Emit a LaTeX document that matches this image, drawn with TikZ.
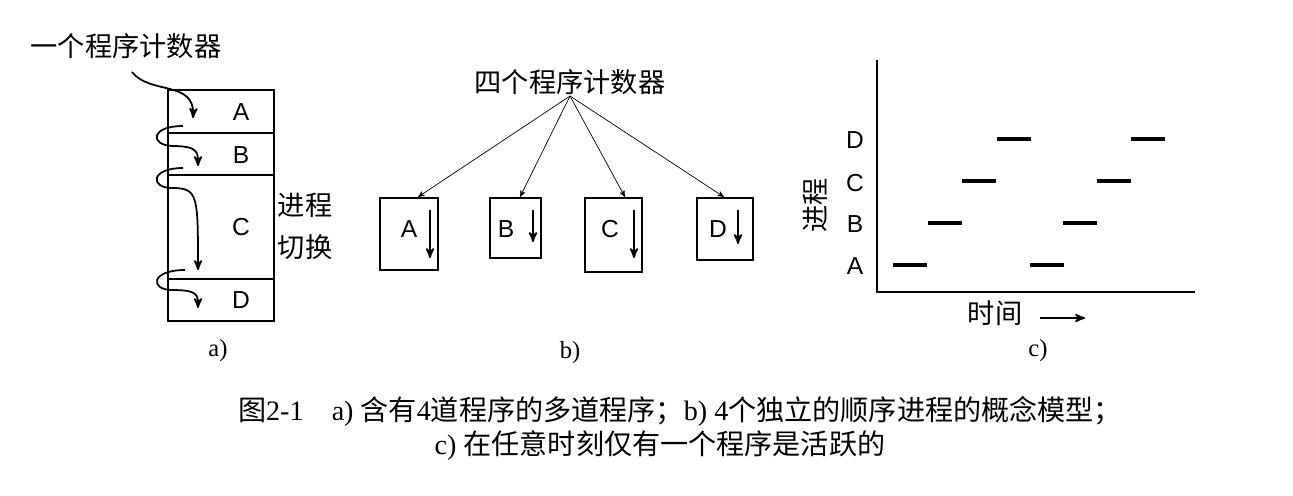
\documentclass[tikz,border=0pt]{standalone}
\usepackage{fontspec}
\setmainfont{Liberation Sans}
\newfontfamily\cjk{Noto Sans CJK SC}
\newfontfamily\capfont{Liberation Serif}
\usetikzlibrary{arrows, calc, positioning}
\tikzset{
>=stealth', % bold arrow heads
every node/.style={inner sep=1pt},
busy/.style={line width=2.3pt},
lbl/.style={font=\fontsize{14}{16}\selectfont},
cjkl/.style={font=\cjk\fontsize{15.5}{18}\selectfont},
capl/.style={font=\capfont\fontsize{14}{16}\selectfont},
capt/.style={font=\capfont\fontsize{16}{18}\selectfont},
}
\begin{document}
\begin{tikzpicture}[x=0.02cm,y=-0.02cm,line width=1pt]
  \useasboundingbox (0,0) rectangle (1293,495);
  % a) one program counter
  \node[cjkl] (pc) at (126,46) {一个程序计数器};
  \draw (168,90) rectangle (274,321);
  \draw (168,133) -- (274,133) (168,175) -- (274,175) (168,279) -- (274,279);
  \node[lbl] (pa) at (241,112) {A};
  \node[lbl] (pb) at (241,155) {B};
  \node[lbl] (pc2) at (241,227) {C};
  \node[lbl] (pd) at (241,300) {D};
  \node[cjkl,align=left] (sw) at (305,226) {进程\\[6pt]切换};
  \draw[->] (132,72) .. controls (150,95) and (195,80) .. (193,118);
  \draw[->] (183,126) .. controls (150,126) and (150,145) .. (172,146) .. controls (198,146) and (198,152) .. (198,166);
  \draw[->] (183,168) .. controls (150,168) and (150,188) .. (172,188) .. controls (198,188) and (198,195) .. (198,270);
  \draw[->] (185,270) .. controls (150,270) and (150,290) .. (172,290) .. controls (198,290) and (198,295) .. (198,308);
  \node[capl] (la) at (218,351) {a)};
  % b) four program counters
  \node[cjkl] (four) at (570,82) {四个程序计数器};
  \draw (380,198) rectangle (438,270);
  \draw (490,198) rectangle (541,258);
  \draw (585,198) rectangle (642,272);
  \draw (697,198) rectangle (753,260);
  \node[lbl] (ba) at (409,229) {A};
  \node[lbl] (bb) at (506,229) {B};
  \node[lbl] (bc) at (610,229) {C};
  \node[lbl] (bd) at (718,229) {D};
  \foreach \x/\t/\b in {430/210/258, 533/210/242, 634/210/258, 738/210/244}
    \draw[->] (\x,\t) -- (\x,\b);
  \coordinate (top) at (570,96);
  \foreach \x in {418,520,625,724}
    \draw[->, thin] (top) -- (\x,197);
  \node[capl] (lb) at (570,353) {b)};
  % c) one active program at a time
  \draw (877,60) -- (877,292) -- (1195,292);
  \foreach \n/\y in {A/266, B/224, C/183, D/140}
    \node[lbl] (c\n) at (855,\y) {\n};
  \node[cjkl,rotate=90] (proc) at (815,205) {进程};
  \foreach \x/\y in {893/265, 928/223, 962/181, 997/139, 1030/265, 1063/223, 1097/181, 1131/139}
    \draw[busy] (\x,\y) -- ++(34,0);
  \node[cjkl] (time) at (995,313) {时间};
  \draw[->] (1040,318) -- (1085,318);
  \node[capl] (lc) at (1038,351) {c)};
  % caption
  \node[capt] (cap1) at (680,411) {{\cjk 图}2-1\quad a) {\cjk 含有}4{\cjk 道程序的多道程序；}b) 4{\cjk 个独立的顺序进程的概念模型；}};
  \node[capt] (cap2) at (660,446) {c) {\cjk 在任意时刻仅有一个程序是活跃的}};
\end{tikzpicture}
\end{document}
